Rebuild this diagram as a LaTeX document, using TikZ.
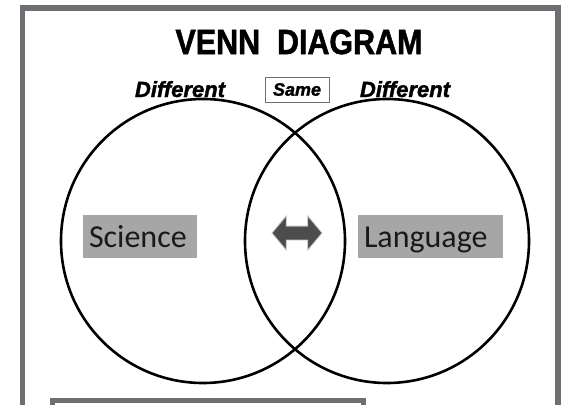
\documentclass[tikz,border=0pt]{standalone}
\usepackage{fontspec}
\setmainfont{Liberation Sans}
\newfontfamily\heavyfont{Liberation Sans}[BoldFeatures={FakeBold=1.6},BoldItalicFeatures={FakeBold=1.6}]
\newfontfamily\boxfont{Carlito}
\usetikzlibrary{shapes.arrows}
\definecolor{FrameGray}{RGB}{110,110,115}
\definecolor{BoxGray}{RGB}{166,166,166}
\definecolor{ArrowGray}{RGB}{76,76,76}
\definecolor{InkDark}{RGB}{25,25,25}

\begin{document}
\begin{tikzpicture}[
        x=1pt, y=-1pt,
        venn/.style={
            circle,
            draw=black,
            line width=2.6pt,
            minimum size=284pt,
            inner sep=0pt
        },
        topic/.style={
            fill=BoxGray,
            text=InkDark,
            minimum height=43pt,
            text height=26.5pt,
            text depth=5.5pt,
            inner xsep=6pt,
            inner ysep=5.5pt,
            align=left,
            font=\boxfont\fontsize{32}{36}\selectfont
        },
        headlabel/.style={
            anchor=base,
            inner sep=0pt,
            font=\heavyfont\bfseries\itshape\fontsize{22}{24}\selectfont
        },
        swap/.style={
            double arrow,
            fill=ArrowGray,
            draw=ArrowGray!35,
            line width=0.8pt,
            minimum height=50pt,
            inner xsep=0pt,
            inner ysep=6.5pt,
            double arrow head extend=10pt,
            double arrow tip angle=100
        },
        frame/.style={
            draw=FrameGray,
            line width=5.5pt
        }
    ]
        \useasboundingbox (0,0) rectangle (561,404);
        \fill[white] (0,0) rectangle (561,404);

        % outer frame and the box below
        \draw[frame] (22.5,8) rectangle (558,430);
        \draw[frame, line width=5pt] (52.5,400.5) rectangle (363.5,430);

        \node[anchor=base, inner sep=0pt, font=\heavyfont\bfseries\fontsize{35}{38}\selectfont] (title) at (299,54)
            {\scalebox{0.87}[1]{VENN\ \ DIAGRAM}};

        \node[headlabel] (difleft) at (180,97) {Different};
        \node[headlabel] (difright) at (405,97) {Different};
        \node[draw=FrameGray, line width=0.9pt, minimum width=64pt, minimum height=25pt,
            inner sep=0pt, font=\heavyfont\bfseries\itshape\fontsize{18}{20}\selectfont] (same) at (297,89.5) {Same};

        \node[venn] (left) at (203,241) {};
        \node[venn] (right) at (387,241) {};

        \node[topic, text width=102pt] (science) at (140,236.5) {Science};
        \node[topic, text width=133pt] (language) at (430.5,236.5) {Language};

        \node[swap] (link) at (297,233) {};
    \end{tikzpicture}
\end{document}
